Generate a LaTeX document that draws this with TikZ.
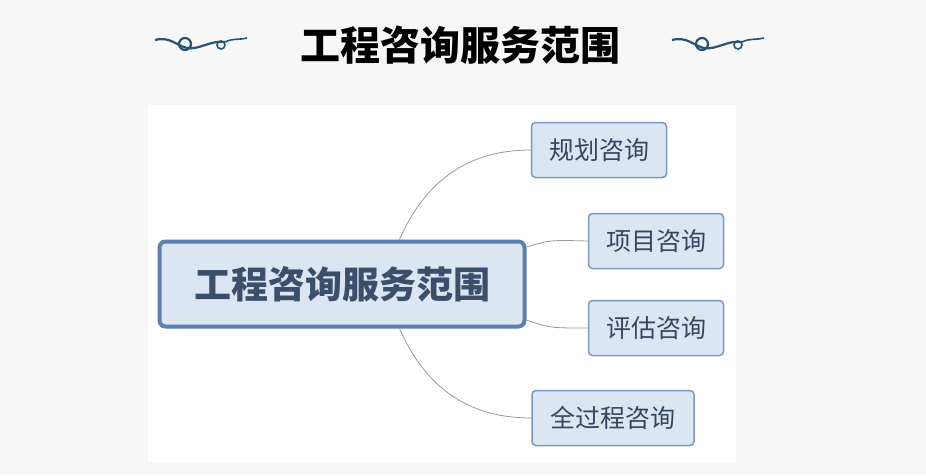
\documentclass[tikz,border=0pt]{standalone}
\usepackage{fontspec}
\newfontfamily\cjk{Noto Sans CJK SC}
\usetikzlibrary{calc}
\definecolor{boxline}{HTML}{5A7FB0}
\definecolor{boxfill}{HTML}{DCE6F2}
\definecolor{boxtext}{HTML}{3B4F6B}
\definecolor{swirl}{HTML}{2C5272}
\tikzset{
  topic/.style={draw=boxline,line width=4pt,fill=boxfill,rounded corners=6pt,
    minimum width=365pt,minimum height=85pt,font=\cjk\bfseries\fontsize{37}{37}\selectfont,text=boxtext},
  sub/.style={draw=boxline!80,line width=1.5pt,fill=boxfill,rounded corners=4pt,
    minimum width=135pt,minimum height=55pt,font=\cjk\fontsize{25}{25}\selectfont,text=boxtext!90!black},
  link/.style={draw=gray!80,line width=0.8pt}
}
\begin{document}
\begin{tikzpicture}[x=1pt,y=-1pt]
    \path[use as bounding box,fill=gray!6] (0,0) rectangle (926,475);
    % Board.
    \fill[white] (148,105) rectangle (736,462);
    % Title.
    \node[font=\cjk\bfseries\fontsize{40}{40}\selectfont] (title) at (460,45) {工程咨询服务范围};
    % Swirls.
    \foreach \xo in {155,672}
    {
      \draw[swirl,line width=2.2pt] (\xo,40) .. controls (\xo+15,36) and (\xo+22,46) .. (\xo+32,48)
        .. controls (\xo+45,50) and (\xo+55,40) .. (\xo+70,42);
      \draw[swirl,line width=2.2pt] (\xo+30,44) circle (6);
      \draw[swirl,line width=1.6pt] (\xo+70,42) .. controls (\xo+78,38) and (\xo+86,40) .. (\xo+92,38);
      \draw[swirl,line width=1.6pt] (\xo+66,45) circle (4);
    }
    % Nodes.
    \node[topic] (main) at (342,284) {工程咨询服务范围};
    \node[sub] (plan) at (599,150) {规划咨询};
    \node[sub] (proj) at (656,241) {项目咨询};
    \node[sub] (eval) at (656,328) {评估咨询};
    \node[sub,minimum width=162pt] (whole) at (613,418) {全过程咨询};
    % Links.
    \coordinate (ntop) at ($(main.north west)+(242,0)$);
    \coordinate (nbot) at ($(main.south west)+(242,0)$);
    \draw[link] (ntop) .. controls (430,170) and (480,150) .. (plan.west);
    \draw[link] (main.east |- 0,247) .. controls (550,240) .. (proj.west);
    \draw[link] (main.east |- 0,320) .. controls (550,328) .. (eval.west);
    \draw[link] (nbot) .. controls (430,398) and (480,418) .. (whole.west);
\end{tikzpicture}
\end{document}
